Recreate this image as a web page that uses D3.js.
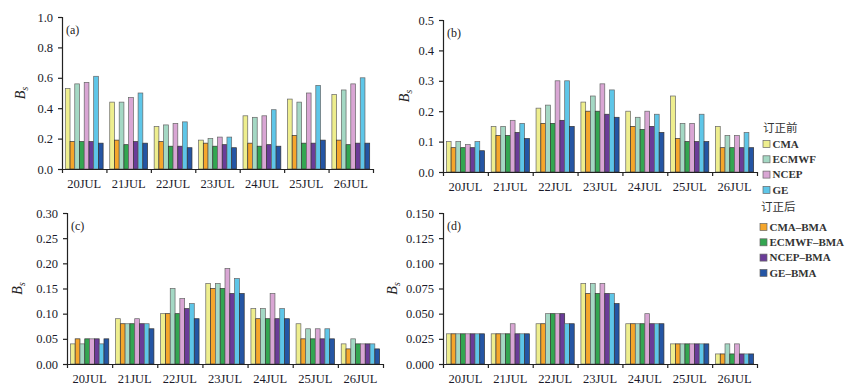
<!DOCTYPE html>
<html>
<head>
<meta charset="utf-8">
<script src="https://cdn.jsdelivr.net/npm/d3@7"></script>
<style>
  body { margin: 0; background: #fff; }
  svg { display: block; }
</style>
</head>
<body>
<div class="chart"></div>
<script>
// Dates (groupes) et séries (barres)
const dates = ['20JUL', '21JUL', '22JUL', '23JUL', '24JUL', '25JUL', '26JUL'];
const series = ['CMA', 'CMA-BMA', 'ECMWF', 'ECMWF-BMA', 'NCEP', 'NCEP-BMA', 'GE', 'GE-BMA'];
const preSeries = ['CMA', 'ECMWF', 'NCEP', 'GE'];
const postSeries = ['CMA-BMA', 'ECMWF-BMA', 'NCEP-BMA', 'GE-BMA'];

// Valeurs Bs, une ligne par date, colonnes dans l'ordre de `series`
const bsA = [
  [0.53, 0.18, 0.56, 0.18, 0.57, 0.18, 0.61, 0.17],
  [0.44, 0.19, 0.44, 0.16, 0.47, 0.18, 0.50, 0.17],
  [0.28, 0.18, 0.29, 0.15, 0.30, 0.15, 0.31, 0.14],
  [0.19, 0.17, 0.20, 0.15, 0.21, 0.16, 0.21, 0.14],
  [0.35, 0.17, 0.34, 0.15, 0.35, 0.16, 0.39, 0.15],
  [0.46, 0.22, 0.44, 0.17, 0.50, 0.17, 0.55, 0.19],
  [0.49, 0.19, 0.52, 0.16, 0.56, 0.17, 0.60, 0.17]
];
const bsB = [
  [0.10, 0.08, 0.10, 0.08, 0.09, 0.08, 0.10, 0.07],
  [0.15, 0.12, 0.15, 0.12, 0.17, 0.13, 0.16, 0.11],
  [0.21, 0.16, 0.22, 0.16, 0.30, 0.17, 0.30, 0.15],
  [0.23, 0.20, 0.25, 0.20, 0.29, 0.19, 0.27, 0.18],
  [0.20, 0.15, 0.18, 0.14, 0.20, 0.15, 0.19, 0.13],
  [0.25, 0.11, 0.16, 0.10, 0.16, 0.10, 0.19, 0.10],
  [0.15, 0.08, 0.12, 0.08, 0.12, 0.08, 0.13, 0.08]
];
const bsC = [
  [0.04, 0.05, 0.04, 0.05, 0.05, 0.05, 0.04, 0.05],
  [0.09, 0.08, 0.08, 0.08, 0.09, 0.08, 0.08, 0.07],
  [0.10, 0.10, 0.15, 0.10, 0.13, 0.11, 0.12, 0.09],
  [0.16, 0.15, 0.16, 0.15, 0.19, 0.14, 0.17, 0.14],
  [0.11, 0.09, 0.11, 0.09, 0.14, 0.09, 0.11, 0.09],
  [0.08, 0.05, 0.07, 0.05, 0.07, 0.05, 0.07, 0.05],
  [0.04, 0.03, 0.05, 0.04, 0.04, 0.04, 0.04, 0.03]
];
const bsD = [
  [0.03, 0.03, 0.03, 0.03, 0.03, 0.03, 0.03, 0.03],
  [0.03, 0.03, 0.03, 0.03, 0.04, 0.03, 0.03, 0.03],
  [0.04, 0.04, 0.05, 0.05, 0.05, 0.05, 0.04, 0.04],
  [0.08, 0.07, 0.08, 0.07, 0.08, 0.07, 0.07, 0.06],
  [0.04, 0.04, 0.04, 0.04, 0.05, 0.04, 0.04, 0.04],
  [0.02, 0.02, 0.02, 0.02, 0.02, 0.02, 0.02, 0.02],
  [0.01, 0.01, 0.02, 0.01, 0.02, 0.01, 0.01, 0.01]
];

// Graduations de l'axe vertical
const ticksA = [0, 0.2, 0.4, 0.6, 0.8, 1.0];
const ticksB = [0, 0.1, 0.2, 0.3, 0.4, 0.5];
const ticksC = [0, 0.05, 0.10, 0.15, 0.20, 0.25, 0.30];
const ticksD = [0, 0.025, 0.050, 0.075, 0.100, 0.125, 0.150];

const width = 853;
const height = 392;
const serif = '"Liberation Serif", "Times New Roman", serif';

const color = d3.scaleOrdinal()
  .domain(series)
  .range(['#eeee8e', '#f5a62c', '#a4d8c4', '#33a651', '#d9a6d4', '#6a3c98', '#5ec6e8', '#2455a4']);

const svg = d3.select('.chart')
  .append('svg')
  .attr('width', width)
  .attr('height', height)
  .style('font-family', serif);

// Un panneau = un graphique en barres groupées
function drawPanel(p) {
  const g = svg.append('g');

  const x = d3.scaleBand()
    .domain(dates)
    .range([p.left, p.right]);

  const xBar = d3.scaleBand()
    .domain(series)
    .range([0, x.bandwidth()])
    .paddingOuter(0.7);

  const y = d3.scaleLinear()
    .domain([0, p.max])
    .range([p.bottom, p.top]);

  // Barres
  g.append('g')
    .selectAll('g')
    .data(p.data)
    .join('g')
      .attr('transform', (d, i) => `translate(${x(dates[i])},0)`)
    .selectAll('rect')
    .data(d => d.map((v, j) => ({ key: series[j], value: v })))
    .join('rect')
      .attr('x', d => xBar(d.key))
      .attr('y', d => y(d.value))
      .attr('width', xBar.bandwidth())
      .attr('height', d => y(0) - y(d.value))
      .attr('fill', d => color(d.key))
      .attr('stroke', d => d.key.includes('BMA') ? '#333' : '#666')
      .attr('stroke-width', 0.7);

  // Axe vertical
  g.append('g')
    .attr('transform', `translate(${p.left},0)`)
    .call(d3.axisLeft(y).tickValues(p.ticks).tickFormat(d3.format(p.fmt)).tickSize(4).tickPadding(5))
    .call(a => a.selectAll('text').style('font-size', '12.5px').style('font-family', serif).attr('fill', '#1a1a2a'))
    .call(a => a.selectAll('line, path').attr('stroke', '#222').attr('stroke-width', 1.2));

  // Axe horizontal : traits aux limites des groupes
  const xEdge = d3.scaleLinear().domain([0, dates.length]).range([p.left, p.right]);
  g.append('g')
    .attr('transform', `translate(0,${p.bottom})`)
    .call(d3.axisBottom(xEdge).tickValues(d3.range(dates.length + 1)).tickFormat('').tickSize(4).tickSizeOuter(0))
    .call(a => a.selectAll('line, path').attr('stroke', '#222').attr('stroke-width', 1.2));

  // Etiquettes des dates
  g.append('g')
    .attr('transform', `translate(0,${p.bottom})`)
    .call(d3.axisBottom(x).tickSize(0).tickPadding(10))
    .call(a => a.select('.domain').remove())
    .call(a => a.selectAll('text').style('font-size', '12.5px').style('font-family', serif).attr('fill', '#1a1a2a'));

  // Titre de l'axe vertical : Bs
  const lab = g.append('text')
    .attr('transform', `translate(${p.labelX},${(p.top + p.bottom) / 2}) rotate(-90)`)
    .attr('text-anchor', 'middle')
    .style('font-size', '14px')
    .attr('fill', '#222');
  lab.append('tspan').style('font-style', 'italic').text('B');
  lab.append('tspan').attr('dy', 3).style('font-size', '9.5px').style('font-style', 'italic').text('s');

  // Lettre du panneau
  g.append('text')
    .attr('x', p.left + 4)
    .attr('y', p.top + 17)
    .style('font-size', '12px')
    .attr('fill', '#222')
    .text(p.name);
}

drawPanel({ name: '(a)', data: bsA, ticks: ticksA, max: 1.0, fmt: '.1f', left: 62, right: 373, top: 17, bottom: 169, labelX: 25 });
drawPanel({ name: '(b)', data: bsB, ticks: ticksB, max: 0.5, fmt: '.1f', left: 443, right: 757, top: 20, bottom: 172, labelX: 409 });
drawPanel({ name: '(c)', data: bsC, ticks: ticksC, max: 0.30, fmt: '.2f', left: 67, right: 383, top: 213, bottom: 364, labelX: 22 });
drawPanel({ name: '(d)', data: bsD, ticks: ticksD, max: 0.150, fmt: '.3f', left: 443, right: 757, top: 213, bottom: 364, labelX: 397 });

// Légende
const legend = svg.append('g')
  .style('font-size', '11px')
  .style('font-weight', 'bold')
  .attr('fill', '#333');

legend.append('text')
  .attr('x', 763).attr('y', 132)
  .style('font-family', '"Noto Sans CJK SC", sans-serif')
  .style('font-weight', 'normal')
  .style('font-size', '11.5px')
  .text('订正前');

legend.append('text')
  .attr('x', 761).attr('y', 211)
  .style('font-family', '"Noto Sans CJK SC", sans-serif')
  .style('font-weight', 'normal')
  .style('font-size', '11.5px')
  .text('订正后');

function legendItems(keys, x0, y0) {
  const item = legend.append('g')
    .selectAll('g')
    .data(keys)
    .join('g')
      .attr('transform', (d, i) => `translate(${x0},${y0 + i * 15.3})`);
  item.append('rect')
    .attr('x', 0).attr('y', -3.5)
    .attr('width', 7).attr('height', 7)
    .attr('fill', d => color(d))
    .attr('stroke', '#666')
    .attr('stroke-width', 0.7);
  item.append('text')
    .attr('x', 9.5)
    .attr('dy', '0.35em')
    .text(d => d.replace('-', '–'));
}

legendItems(preSeries, 763, 144);
legendItems(postSeries, 760, 227);
</script>
</body>
</html>
